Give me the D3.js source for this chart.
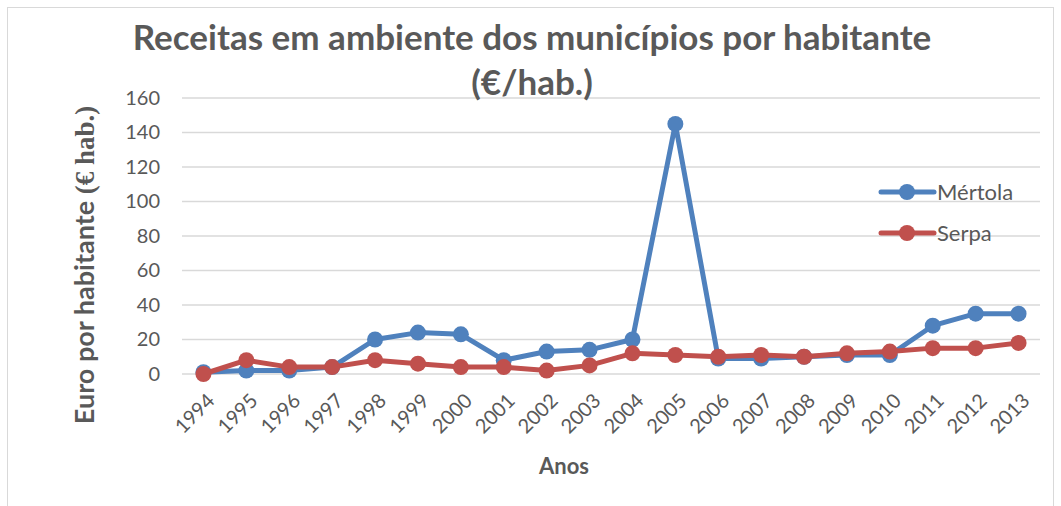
<!DOCTYPE html>
<html>
<head>
<meta charset="utf-8">
<script src="https://cdn.jsdelivr.net/npm/d3@7"></script>
<style>
  body { margin: 0; background: #fff; }
  text { font-family: Lato, "Open Sans", sans-serif; fill: #595959; }
</style>
</head>
<body>
<div id="chart"></div>
<script>
// data
var years = ['1994','1995','1996','1997','1998','1999','2000','2001','2002','2003',
             '2004','2005','2006','2007','2008','2009','2010','2011','2012','2013'];
var mertola = [1, 2, 2, 4, 20, 24, 23, 8, 13, 14, 20, 145, 9, 9, 10, 11, 11, 28, 35, 35];
var serpa   = [0, 8, 4, 4, 8, 6, 4, 4, 2, 5, 12, 11, 10, 11, 10, 12, 13, 15, 15, 18];
var yTicks  = [0, 20, 40, 60, 80, 100, 120, 140, 160];

var seriesList = [
  { name: 'Mértola', values: mertola, color: '#4F81BD' },
  { name: 'Serpa', values: serpa, color: '#C0504D' }
];

var W = 1061, H = 506;
var plot = { left: 182, right: 1040, top: 98, bottom: 374 };

var svg = d3.select('#chart').append('svg').attr('width', W).attr('height', H);

// chart border
svg.append('rect').attr('x', 7.5).attr('y', 7.5).attr('width', 1046).attr('height', 510)
  .attr('fill', 'none').attr('stroke', '#d9d9d9').attr('stroke-width', 1);

var x = d3.scalePoint().domain(years).range([plot.left, plot.right]).padding(0.5);
var y = d3.scaleLinear().domain([0, 160]).range([plot.bottom, plot.top]);

// gridlines
svg.append('g').selectAll('line').data(yTicks).enter().append('line')
  .attr('x1', plot.left).attr('x2', plot.right)
  .attr('y1', function(d) { return y(d); }).attr('y2', function(d) { return y(d); })
  .attr('stroke', '#d9d9d9').attr('stroke-width', 1.5);

// y axis labels
var yAxis = svg.append('g').attr('transform', 'translate(' + plot.left + ',0)')
  .call(d3.axisLeft(y).tickValues(yTicks).tickSize(0).tickPadding(22));
yAxis.select('.domain').remove();
yAxis.selectAll('text').style('font-size', '20px').style('fill', '#595959')
  .style('font-family', 'Lato, sans-serif');

// x axis labels (rotated)
var xAxis = svg.append('g').attr('transform', 'translate(0,' + plot.bottom + ')')
  .call(d3.axisBottom(x).tickSize(0).tickPadding(0));
xAxis.select('.domain').remove();
xAxis.selectAll('text')
  .style('font-size', '20px').style('fill', '#595959').style('font-family', 'Lato, sans-serif')
  .attr('text-anchor', 'end').attr('dy', null).attr('y', 0)
  .attr('transform', 'translate(12,28) rotate(-45)');

// lines and markers
var line = d3.line()
  .x(function(d, i) { return x(years[i]); })
  .y(function(d) { return y(d); });

seriesList.forEach(function(s) {
  var g = svg.append('g');
  g.append('path').datum(s.values).attr('d', line)
    .attr('fill', 'none').attr('stroke', s.color).attr('stroke-width', 5)
    .attr('stroke-linejoin', 'round');
  g.selectAll('circle').data(s.values).enter().append('circle')
    .attr('cx', function(d, i) { return x(years[i]); })
    .attr('cy', function(d) { return y(d); })
    .attr('r', 8).attr('fill', s.color);
});

// legend
var legend = svg.append('g');
seriesList.forEach(function(s, i) {
  var ly = 192 + i * 41;
  legend.append('line').attr('x1', 881).attr('x2', 934).attr('y1', ly).attr('y2', ly)
    .attr('stroke', s.color).attr('stroke-width', 5).attr('stroke-linecap', 'round');
  legend.append('circle').attr('cx', 907).attr('cy', ly).attr('r', 8).attr('fill', s.color);
  legend.append('text').attr('x', 937).attr('y', ly + 8).text(s.name)
    .style('font-size', '22px');
});

// title
svg.append('text').attr('x', 532).attr('y', 50).attr('text-anchor', 'middle')
  .style('font-size', '35px').style('font-weight', 'bold')
  .text('Receitas em ambiente dos municípios por habitante');
svg.append('text').attr('x', 532).attr('y', 95).attr('text-anchor', 'middle')
  .style('font-size', '35px').style('font-weight', 'bold')
  .text('(€/hab.)');

// axis titles
var yt = svg.append('text').attr('transform', 'translate(94,265) rotate(-90)')
  .attr('text-anchor', 'middle').style('font-size', '27px').style('font-weight', 'bold');
yt.append('tspan').text('Euro por habitante ');
yt.append('tspan').style('font-family', '"Liberation Serif", serif').text('(€ hab.)');

svg.append('text').attr('x', 564).attr('y', 474).attr('text-anchor', 'middle')
  .style('font-size', '22px').style('font-weight', 'bold').text('Anos');
</script>
</body>
</html>
